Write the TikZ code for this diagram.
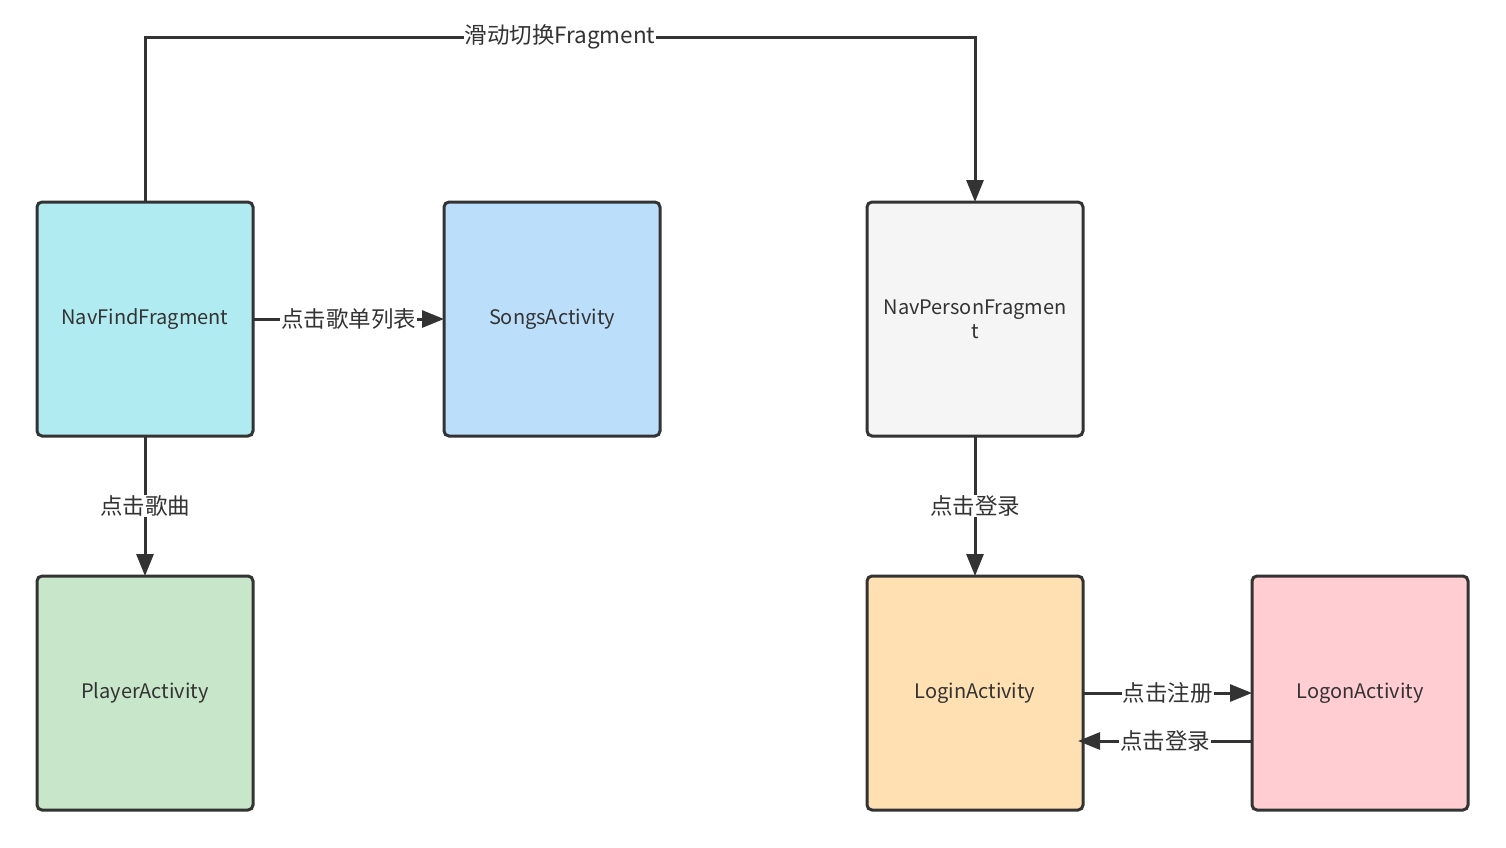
\documentclass[tikz,border=0pt]{standalone}
\usepackage{fontspec}
\setmainfont{Noto Sans CJK SC}
\usepackage{tikz}
\usetikzlibrary{shapes.geometric, arrows.meta, positioning}

\definecolor{linegray}{HTML}{333333}
\definecolor{findcyan}{HTML}{B1EBF2}
\definecolor{songsblue}{HTML}{BBDEFB}
\definecolor{persongray}{HTML}{F5F5F5}
\definecolor{playergreen}{HTML}{C8E6C9}
\definecolor{loginorange}{HTML}{FFE0B2}
\definecolor{logonpink}{HTML}{FFCDD2}

\tikzstyle{page} = [draw, rectangle, rounded corners=5pt, line width=3pt, draw=linegray, text=linegray, outer sep=0pt, minimum width=216pt, minimum height=234pt, align=center, font=\fontsize{20}{24}\selectfont]
\tikzstyle{arrow} = [draw=linegray, line width=3pt, -{Triangle[length=22pt, width=17pt]}]
\tikzstyle{tag} = [fill=white, text=linegray, inner sep=1pt, font=\fontsize{22.5}{24}\selectfont]

\begin{document}
\begin{tikzpicture}[x=1pt, y=-1pt]
	\useasboundingbox (0,0) rectangle (1506,847);
	\node[page, fill=findcyan] (find) at (145,319) {NavFindFragment};
	\node[page, fill=songsblue, right=191pt of find] (songs) {SongsActivity};
	\node[page, fill=persongray, right=207pt of songs] (person) {NavPersonFragmen\\t};
	\node[page, fill=playergreen, below=140pt of find] (player) {PlayerActivity};
	\node[page, fill=loginorange, below=140pt of person] (login) {LoginActivity};
	\node[page, fill=logonpink, right=169pt of login] (logon) {LogonActivity};
	% fragment switch
	\path[arrow] (find.north) -- ++(0,-165) -| node[tag, pos=0.25] {滑动切换Fragment} (person.north);
	\path[arrow] (find) -- node[tag] {点击歌单列表} (songs);
	\path[arrow] (find) -- node[tag] {点击歌曲} (player);
	\path[arrow] (person) -- node[tag] {点击登录} (login);
	% login <-> logon
	\path[arrow] (login.east) -- node[tag] {点击注册} (logon.west);
	\path[arrow] ([yshift=-48pt]logon.west) -- node[tag] {点击登录} ([xshift=-5pt, yshift=-48pt]login.east);
\end{tikzpicture}
\end{document}
